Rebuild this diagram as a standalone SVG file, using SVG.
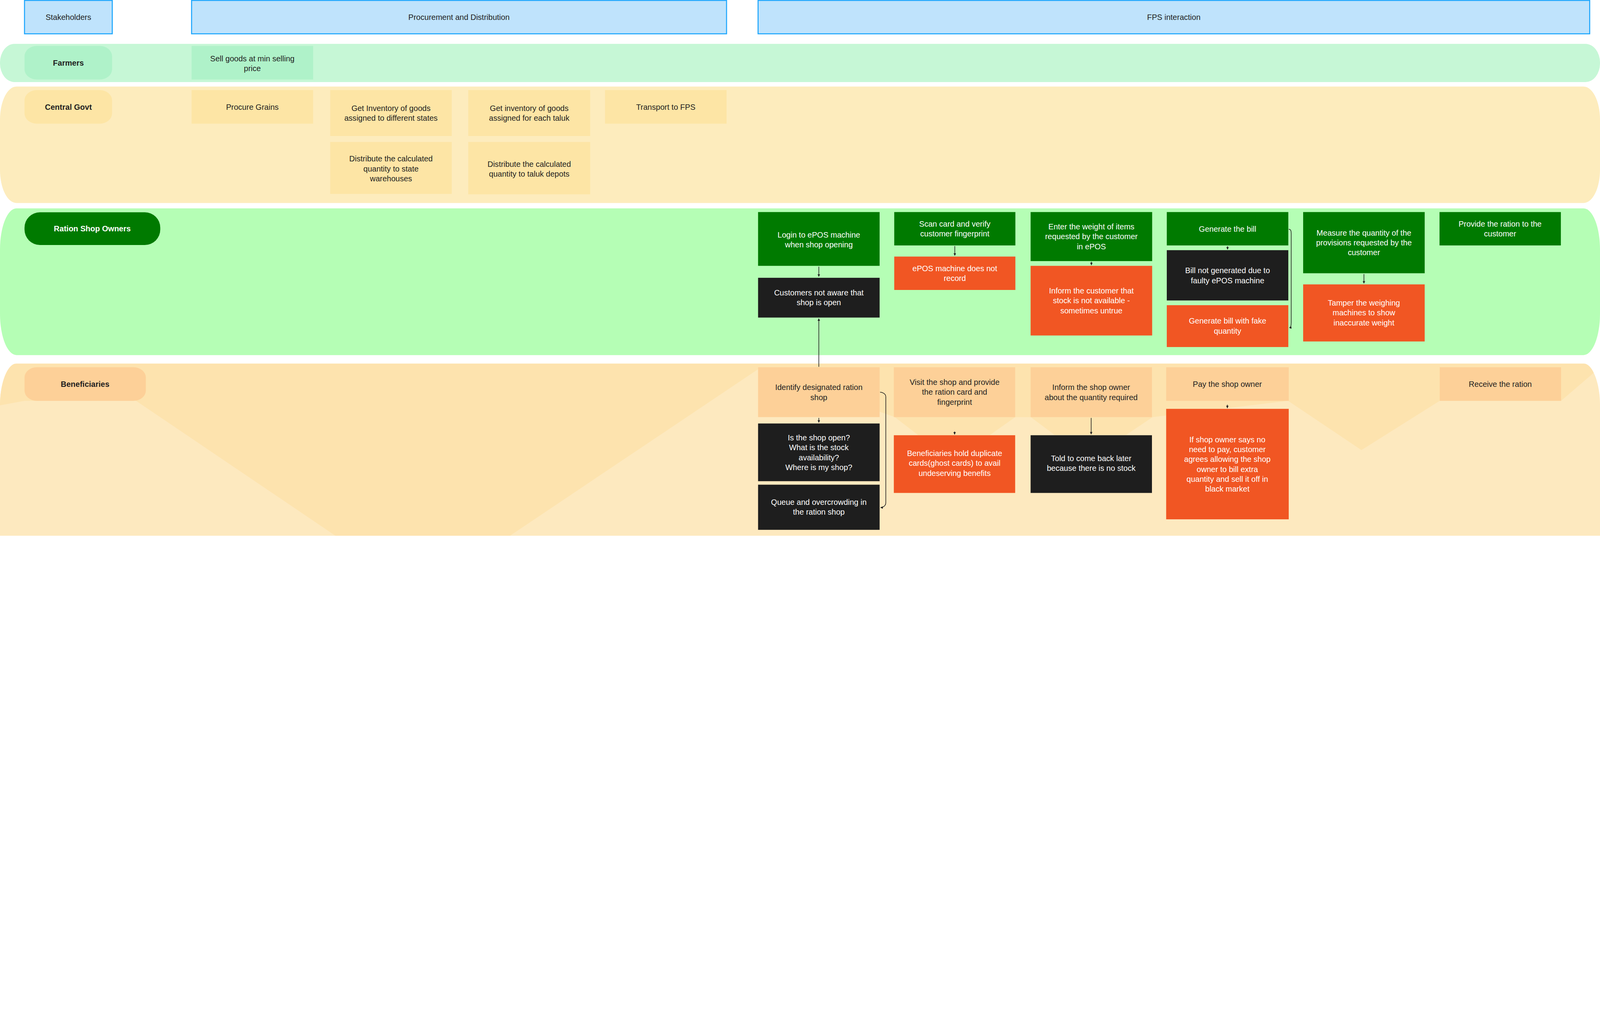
<svg xmlns="http://www.w3.org/2000/svg" width="7767" height="2600" viewBox="0 0 7767 2600" style="width:100vw;height:100vh;display:block;overflow:hidden" preserveAspectRatio="xMinYMin meet">
<style>
text{font-family:"Liberation Sans",Arial,sans-serif;font-size:38px;text-anchor:middle;fill:#1e1e1e}
.w{fill:#ffffff}
.b{font-weight:bold}
.hdr{fill:#bfe3fc;stroke:#1ea7fd;stroke-width:5}
.g{fill:#007a00}.k{fill:#1e1e1e}.o{fill:#f15623}
.y{fill:#fde5a5}.p{fill:#fdd098}.f{fill:#aff2c9}
.c{fill:none;stroke:#1e1e1e;stroke-width:3}
</style>
<defs>
<marker id="ah" viewBox="0 0 10 10" refX="9" refY="5" markerWidth="4" markerHeight="4" orient="auto"><path d="M0 0L10 5L0 10z" fill="#1e1e1e"/></marker>
<clipPath id="benclip"><path d="M80 1764H7687C7731 1764 7767 1860 7767 1964V2600H0V1964C0 1860 36 1764 80 1764Z"/></clipPath>
</defs>
<rect width="7767" height="2600" fill="#ffffff"/>
<g id="lanes">
<rect x="0" y="213" width="7767" height="185" rx="70" ry="90" fill="#c6f7d6"/>
<rect x="0" y="420" width="7767" height="565" rx="80" ry="160" fill="#fdecbd"/>
<rect x="0" y="1011" width="7767" height="712" rx="80" ry="200" fill="#b5feb5"/>
<g clip-path="url(#benclip)">
<rect x="0" y="1764" width="7767" height="836" fill="#fde9bf"/>
<polygon fill="#fde3ae" points="0,1764 7767,1764 7767,1783 7578,1945 6989,1945 6609,2184 6253,1945 5595,2024 5467,2110 5119,2110 5004,2024 4928,2024 4804,2112 4458,2112 4344,2024 3681,1791 2475,2600 1629,2600 659,1944 119,1945 0,1967"/>
</g>
</g>
<g id="header-stakeholders"><rect class="hdr" x="119" y="2" width="426" height="162"/><text x="332" y="96">Stakeholders</text></g>
<g id="header-procurement"><rect class="hdr" x="930" y="2" width="2597" height="162"/><text x="2228" y="96">Procurement and Distribution</text></g>
<g id="header-fps"><rect class="hdr" x="3680" y="2" width="4037" height="162"/><text x="5698" y="96">FPS interaction</text></g>

<g id="farmers"><rect class="f" x="119" y="223" width="425" height="163" rx="60" ry="50"/><text class="b" x="332" y="318">Farmers</text></g>
<g id="sell"><rect class="f" x="930" y="223" width="590" height="163"/><text x="1225" y="297">Sell goods at min selling<tspan x="1225" dy="48">price</tspan></text></g>

<g id="central"><rect fill="#fde5a5" x="119" y="437" width="425" height="163" rx="60" ry="50"/><text class="b" x="332" y="532">Central Govt</text></g>
<g id="procure"><rect class="y" x="930" y="437" width="590" height="163"/><text x="1225" y="532">Procure Grains</text></g>
<g id="inv-states"><rect class="y" x="1603" y="437" width="590" height="223"/><text x="1898" y="538">Get Inventory of goods<tspan x="1898" dy="48">assigned to different states</tspan></text></g>
<g id="dist-states"><rect class="y" x="1603" y="689" width="590" height="252"/><text x="1898" y="784">Distribute the calculated<tspan x="1898" dy="48">quantity to state</tspan><tspan x="1898" dy="48">warehouses</tspan></text></g>
<g id="inv-taluk"><rect class="y" x="2273" y="437" width="592" height="223"/><text x="2569" y="538">Get inventory of goods<tspan x="2569" dy="48">assigned for each taluk</tspan></text></g>
<g id="dist-taluk"><rect class="y" x="2273" y="689" width="592" height="254"/><text x="2569" y="810">Distribute the calculated<tspan x="2569" dy="48">quantity to taluk depots</tspan></text></g>
<g id="transport"><rect class="y" x="2937" y="437" width="590" height="163"/><text x="3232" y="532">Transport to FPS</text></g>

<g id="rso"><rect class="g" x="119" y="1030" width="659" height="159" rx="75" ry="75"/><text class="w b" x="448" y="1123">Ration Shop Owners</text></g>
<g id="login"><rect class="g" x="3680" y="1029" width="590" height="261"/><text class="w" x="3975" y="1152">Login to ePOS machine<tspan x="3975" dy="48">when shop opening</tspan></text></g>
<g id="not-aware"><rect class="k" x="3680" y="1348" width="590" height="193"/><text class="w" x="3975" y="1433">Customers not aware that<tspan x="3975" dy="48">shop is open</tspan></text></g>
<g id="scan"><rect class="g" x="4341" y="1029" width="588" height="162"/><text class="w" x="4635" y="1100">Scan card and verify<tspan x="4635" dy="48">customer fingerprint</tspan></text></g>
<g id="epos-no"><rect class="o" x="4341" y="1245" width="588" height="162"/><text class="w" x="4635" y="1316">ePOS machine does not<tspan x="4635" dy="48">record</tspan></text></g>
<g id="enter"><rect class="g" x="5003" y="1029" width="590" height="238"/><text class="w" x="5298" y="1113">Enter the weight of items<tspan x="5298" dy="48">requested by the customer</tspan><tspan x="5298" dy="48">in ePOS</tspan></text></g>
<g id="inform-cust"><rect class="o" x="5003" y="1290" width="590" height="338"/><text class="w" x="5298" y="1424">Inform the customer that<tspan x="5298" dy="48">stock is not available -</tspan><tspan x="5298" dy="48">sometimes untrue</tspan></text></g>
<g id="gen-bill"><rect class="g" x="5664" y="1029" width="590" height="162"/><text class="w" x="5959" y="1124">Generate the bill</text></g>
<g id="bill-not"><rect class="k" x="5664" y="1214" width="590" height="244"/><text class="w" x="5959" y="1326">Bill not generated due to<tspan x="5959" dy="48">faulty ePOS machine</tspan></text></g>
<g id="fake-bill"><rect class="o" x="5664" y="1481" width="590" height="203"/><text class="w" x="5959" y="1571">Generate bill with fake<tspan x="5959" dy="48">quantity</tspan></text></g>
<g id="measure"><rect class="g" x="6326" y="1029" width="590" height="297"/><text class="w" x="6621" y="1143">Measure the quantity of the<tspan x="6621" dy="48">provisions requested by the</tspan><tspan x="6621" dy="48">customer</tspan></text></g>
<g id="tamper"><rect class="o" x="6326" y="1380" width="590" height="277"/><text class="w" x="6621" y="1483">Tamper the weighing<tspan x="6621" dy="48">machines to show</tspan><tspan x="6621" dy="48">inaccurate weight</tspan></text></g>
<g id="provide"><rect class="g" x="6988" y="1029" width="589" height="162"/><text class="w" x="7282" y="1100">Provide the ration to the<tspan x="7282" dy="48">customer</tspan></text></g>

<g id="benef"><rect class="p" x="119" y="1782" width="589" height="163" rx="60" ry="50"/><text class="b" x="413" y="1877">Beneficiaries</text></g>
<g id="identify"><rect class="p" x="3680" y="1782" width="590" height="242"/><text x="3975" y="1893">Identify designated ration<tspan x="3975" dy="48">shop</tspan></text></g>
<g id="questions"><rect class="k" x="3680" y="2055" width="590" height="280"/><text class="w" x="3975" y="2137">Is the shop open?<tspan x="3975" dy="48">What is the stock</tspan><tspan x="3975" dy="48">availability?</tspan><tspan x="3975" dy="48">Where is my shop?</tspan></text></g>
<g id="queue"><rect class="k" x="3680" y="2352" width="590" height="219"/><text class="w" x="3975" y="2450">Queue and overcrowding in<tspan x="3975" dy="48">the ration shop</tspan></text></g>
<g id="visit"><rect class="p" x="4339" y="1782" width="589" height="242"/><text x="4634" y="1868">Visit the shop and provide<tspan x="4634" dy="48">the ration card and</tspan><tspan x="4634" dy="48">fingerprint</tspan></text></g>
<g id="ghost"><rect class="o" x="4339" y="2112" width="589" height="280"/><text class="w" x="4634" y="2213">Beneficiaries hold duplicate<tspan x="4634" dy="48">cards(ghost cards) to avail</tspan><tspan x="4634" dy="48">undeserving benefits</tspan></text></g>
<g id="inform-owner"><rect class="p" x="5003" y="1782" width="589" height="242"/><text x="5297" y="1893">Inform the shop owner<tspan x="5297" dy="48">about the quantity required</tspan></text></g>
<g id="told"><rect class="k" x="5003" y="2112" width="589" height="280"/><text class="w" x="5297" y="2237">Told to come back later<tspan x="5297" dy="48">because there is no stock</tspan></text></g>
<g id="pay"><rect class="p" x="5661" y="1782" width="595" height="163"/><text x="5958" y="1877">Pay the shop owner</text></g>
<g id="no-pay"><rect class="o" x="5661" y="1984" width="595" height="536"/><text class="w" x="5958" y="2146">If shop owner says no<tspan x="5958" dy="48">need to pay, customer</tspan><tspan x="5958" dy="48">agrees allowing the shop</tspan><tspan x="5958" dy="48">owner to bill extra</tspan><tspan x="5958" dy="48">quantity and sell it off in</tspan><tspan x="5958" dy="48">black market</tspan></text></g>
<g id="receive"><rect class="p" x="6989" y="1782" width="589" height="163"/><text x="7283" y="1877">Receive the ration</text></g>

<g id="connectors">
<path class="c" marker-end="url(#ah)" d="M3975 1294V1342"/>
<path class="c" marker-end="url(#ah)" d="M4635 1194V1240"/>
<path class="c" marker-end="url(#ah)" d="M5298 1270V1286"/>
<path class="c" marker-end="url(#ah)" d="M5959 1195V1210"/>
<path class="c" marker-end="url(#ah)" d="M6621 1330V1375"/>
<path class="c" marker-end="url(#ah)" d="M6256 1112C6266 1112 6268 1120 6268 1135V1565C6268 1580 6266 1590 6259 1590"/>
<path class="c" marker-end="url(#ah)" d="M3975 1780V1546"/>
<path class="c" marker-end="url(#ah)" d="M3975 2028V2050"/>
<path class="c" marker-end="url(#ah)" d="M4634 2094V2108"/>
<path class="c" marker-end="url(#ah)" d="M5297 2028V2107"/>
<path class="c" marker-end="url(#ah)" d="M5958 1964V1980"/>
<path class="c" marker-end="url(#ah)" d="M4272 1903C4282 1903 4300 1910 4300 1925V2440C4300 2455 4285 2463 4275 2463"/>
</g>
</svg>
